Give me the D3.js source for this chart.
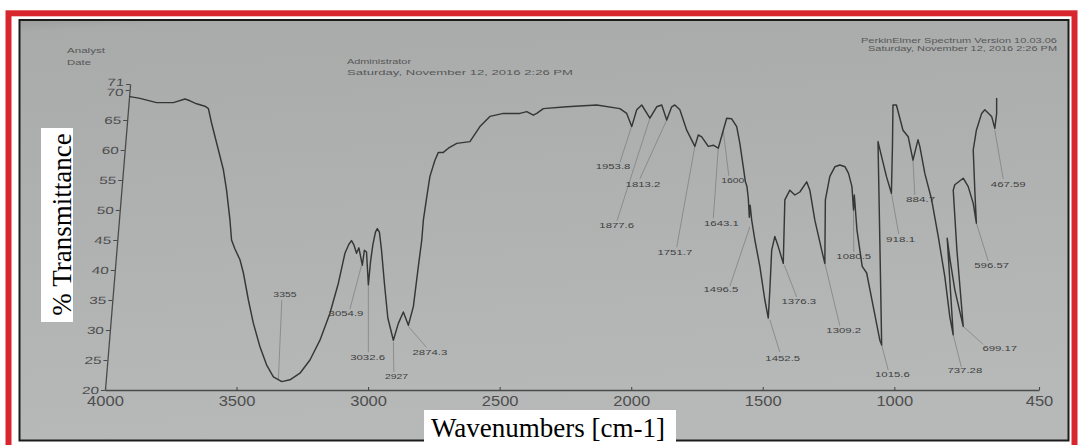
<!DOCTYPE html>
<html><head><meta charset="utf-8">
<script src="https://cdn.jsdelivr.net/npm/d3@7"></script>
<style>html,body{margin:0;padding:0;background:#fff;overflow:hidden}</style>
</head><body>
<svg id="chart" width="1079" height="445"></svg>
<script>
// ---- data ----
const specWn = [3905,3867,3804,3740,3696,3677,3652,3620,3607,3595,3569,3550,3538,3525,3519,3506,3487,3474,3455,3436,
  3411,3386,3360,3328,3297,3259,3221,3183,3145,3113,3088,3073,3063,3054,3044,3035,3022,3014,3006,2999,
  2991,2982,2972,2965,2957,2949,2938,2925,2904,2885,2866,2847,2828,2809,2796,2790,2777,2765,2746,2733,
  2714,2695,2663,2613,2575,2537,2486,2423,2397,2372,2359,2334,2245,2131,2043,2017,1998,1979,1960,1929,
  1903,1884,1865,1846,1834,1815,1789,1758,1745,1732,1707,1688,1669,1650,1637,1618,1599,1587,1574,1566,
  1560,1555,1551,1548,1542,1530,1511,1492,1479,1473,1466,1454,1441,1422,1416,1397,1378,1359,1333,1321,
  1302,1276,1264,1262,1245,1226,1207,1187,1174,1161,1155,1152,1142,1122,1105,1080,1055,1048,1055,1062,
  1030,1011,1007,1005,992,967,947,929,910,903,884,858,833,808,789,776,799,788,770,738,
  762,776,770,738,719,700,688,694,700,688,668,656,630,618,611,611];
const specT = [68.9,68.6,67.9,67.9,68.5,68.2,67.7,67.3,66.9,64.5,60,56.7,53.3,48.3,45,43.5,41.7,39.5,35,31.1,
  27.2,24.2,22.2,21.4,21.7,22.8,25,28.3,32.8,37.8,42.8,44.3,44.9,44.2,42.8,43.7,40.8,43.3,43,37.5,
  41.3,44.2,46.3,46.9,46.3,43.3,37.8,32,28.3,31.1,33,30.8,33.9,40.6,45,48.3,52.2,55.6,58.3,59.6,
  59.6,60.3,61.1,61.4,63.9,65.6,66.1,66.1,66.4,65.8,66.1,66.9,67.2,67.5,66.9,66.1,63.9,66.7,67.5,65.3,
  67.2,67.5,65,67.2,67.5,66.7,63.3,60.6,62.5,62.2,60.6,60.8,60.3,63.3,65.3,65.2,63.9,61.1,57.2,54.7,
  53.9,52,48.8,50.8,48.3,45,40.6,35,32,36.7,43.3,45.6,43.9,41.1,51.7,53.3,52.5,53,54.7,53.3,
  48.3,43.3,41.1,51.7,55.6,57.2,57.5,57.2,56.1,53.9,50,52.5,46.7,40.6,39.5,33.9,28.3,27.5,45,61.4,
  55.6,52.8,60.6,67.5,67.5,63.3,62.2,58.3,61.7,60.6,56.1,51.7,45.6,38.9,32.2,29.2,45.3,41.7,36.7,30.6,
  43.3,53.3,54.2,55.3,53.9,51.1,47.8,53.3,60,63.3,66.1,66.7,65.6,63.6,66.1,68.6];

const xTicks = [4000,3500,3000,2500,2000,1500,1000,450];
const yTicks = [20,25,30,35,40,45,50,55,60,65,70,71];

const peakLabels = ["3355","3054.9","3032.6","2927","2874.3","1953.8","1877.6","1813.2","1751.7","1643.1","1600",
  "1496.5","1452.5","1376.3","1309.2","1080.5","1015.6","918.1","884.7","737.28","699.17","596.57","467.59"];
const peakWn = [3341,3025,2999,2904,2847,1999,1929,1865,1758,1669,1650,1549,1473,1418,1264,1155,1048,1011,929,776,738,688,618];
const peakT  = [21.7,40.8,37.3,28,30.6,63.9,65.3,65,60.6,60.3,63.2,47.2,31.7,40.8,41.1,50,27.5,52.8,58.3,29.2,30.6,47.8,63.3];
const tipWn  = [3328,3069,2999,2902,2778,2043,2054,1967,1827,1688,1629,1625,1435,1371,1207,1154,1023,983,922,745,662,643,586];
const tipT   = [35,33.5,26.3,23,27.1,57.9,48.2,55.2,43.8,48.6,55.7,37.3,26.3,35.5,30.7,43,23.3,46,52.5,23.8,27.6,41.5,55.2];
const textWn = [3316,3084,3002,2892,2765,2069,2055,1955,1834,1657,1614,1659,1424,1363,1192,1154,1007,976,900,732,599,630,567];
const textT  = [36,32.7,25.5,22.2,26.2,57.2,47.4,54.3,43,47.8,55,36.7,25.3,34.8,29.9,42.3,22.6,45.1,51.8,23.2,27,40.7,54.3];

const headerLeft = ["Analyst","Date"];
const headerMid = ["Administrator","Saturday, November 12, 2016 2:26 PM"];
const headerRight = ["PerkinElmer Spectrum Version 10.03.06","Saturday, November 12, 2016 2:26 PM"];
const yTitle = "% Transmittance";
const xTitle = "Wavenumbers [cm-1]";

// ---- drawing ----
const svg = d3.select('#chart');
const x = d3.scaleLinear().domain([4000,450]).range([105,1039]);
const y = d3.scaleLinear().domain([20,71]).range([390,84]);

const defs = svg.append('defs');
const gr = defs.append('linearGradient').attr('id','bg').attr('x1',0).attr('y1',0).attr('x2',0.15).attr('y2',1);
gr.append('stop').attr('offset','0%').attr('stop-color','#9c9e9e');
gr.append('stop').attr('offset','3%').attr('stop-color','#a9abab');
gr.append('stop').attr('offset','100%').attr('stop-color','#b7b9b8');

svg.append('rect').attr('x',0).attr('y',0).attr('width',1079).attr('height',445).attr('fill','#ffffff');
svg.append('rect').attr('x',8.5).attr('y',13.3).attr('width',1066).attr('height',445)
  .attr('fill','none').attr('stroke','#d8262e').attr('stroke-width',6);
svg.append('rect').attr('x',19.5).attr('y',20).attr('width',1049).attr('height',420.5)
  .attr('fill','url(#bg)').attr('stroke','#1c1c1c').attr('stroke-width',2);

// header texts
const hdr = svg.append('g').attr('font-family','Liberation Sans, Arial, sans-serif').attr('font-size',7).attr('fill','#575757');
hdr.selectAll('text.l').data(headerLeft).join('text').attr('class','l')
  .attr('x',67).attr('y',(d,i)=>53+i*11.5).attr('textLength',(d,i)=>i?24:38).attr('lengthAdjust','spacingAndGlyphs').text(d=>d);
hdr.selectAll('text.m').data(headerMid).join('text').attr('class','m')
  .attr('x',347).attr('y',(d,i)=>64+i*11).attr('textLength',(d,i)=>i?226:64).attr('lengthAdjust','spacingAndGlyphs').text(d=>d);
hdr.selectAll('text.r').data(headerRight).join('text').attr('class','r')
  .attr('x',1057).attr('y',(d,i)=>43+i*8).attr('text-anchor','end').attr('font-size',6.5)
  .attr('textLength',(d,i)=>i?189:196).attr('lengthAdjust','spacingAndGlyphs').text(d=>d);

// axes
const axColor = '#4a4a4a';
const yAxis = d3.axisLeft(y).tickValues(yTicks).tickSizeInner(4).tickSizeOuter(0).tickPadding(2).tickFormat(d3.format('d'));
const gy = svg.append('g').attr('transform','translate(105,390) skewX(-4.7) translate(0,-390)').call(yAxis);
gy.select('.domain').attr('stroke',axColor).attr('stroke-width',1.3);
gy.selectAll('.tick line').attr('stroke',axColor).attr('stroke-width',1.1);
gy.selectAll('.tick text').attr('font-family','Liberation Sans, Arial, sans-serif').attr('font-size',10.5)
  .attr('fill','#4e4e4e').attr('textLength',17).attr('lengthAdjust','spacingAndGlyphs')
  .attr('dy',d=> d===71 ? '0.1em' : (d===70 ? '0.55em' : '0.32em'));

const xAxis = d3.axisBottom(x).tickValues(xTicks).tickSizeInner(-3).tickSizeOuter(0).tickFormat(d3.format('d'));
const gx = svg.append('g').attr('transform','translate(0,390)').call(xAxis);
gx.select('.domain').attr('stroke',axColor).attr('stroke-width',1.3);
gx.selectAll('.tick line').attr('stroke',axColor).attr('stroke-width',1.1);
gx.selectAll('.tick text').attr('y',16).attr('dy',null).attr('font-family','Liberation Sans, Arial, sans-serif')
  .attr('font-size',14).attr('fill','#4e4e4e')
  .attr('textLength',d=>String(d).length*9.2).attr('lengthAdjust','spacingAndGlyphs');

// leaders and peak labels
const ann = svg.append('g');
ann.selectAll('line').data(peakLabels).join('line')
  .attr('x1',(d,i)=>x(peakWn[i])).attr('y1',(d,i)=>y(peakT[i]))
  .attr('x2',(d,i)=>x(tipWn[i])).attr('y2',(d,i)=>y(tipT[i]))
  .attr('stroke','#7a7a7a').attr('stroke-width',0.7);
ann.selectAll('text').data(peakLabels).join('text')
  .attr('x',(d,i)=>x(textWn[i])).attr('y',(d,i)=>y(textT[i]))
  .attr('text-anchor','middle').attr('dominant-baseline','central')
  .attr('font-family','Liberation Sans, Arial, sans-serif').attr('font-size',8).attr('fill','#404040')
  .attr('textLength',d=>d.length*5.8).attr('lengthAdjust','spacingAndGlyphs').text(d=>d);

// spectrum
const pts = specWn.map((w,i)=>[w,specT[i]]);
svg.append('path').datum(pts)
  .attr('d', d3.line().x(d=>x(d[0])).y(d=>y(d[1])))
  .attr('fill','none').attr('stroke','#363636').attr('stroke-width',1.45)
  .attr('stroke-linejoin','round').attr('stroke-linecap','round');

// axis titles in white boxes
svg.append('rect').attr('x',41).attr('y',128).attr('width',32).attr('height',194).attr('fill','#ffffff');
svg.append('text').attr('transform','translate(71,224.5) rotate(-90)').attr('text-anchor','middle')
  .attr('font-family','Liberation Serif, Times New Roman, serif').attr('font-size',27).attr('fill','#000')
  .text(yTitle);
svg.append('rect').attr('x',424).attr('y',410).attr('width',252).attr('height',35).attr('fill','#ffffff');
svg.append('text').attr('x',431).attr('y',437)
  .attr('font-family','Liberation Serif, Times New Roman, serif').attr('font-size',27).attr('fill','#000')
  .text(xTitle);
</script>
</body></html>
